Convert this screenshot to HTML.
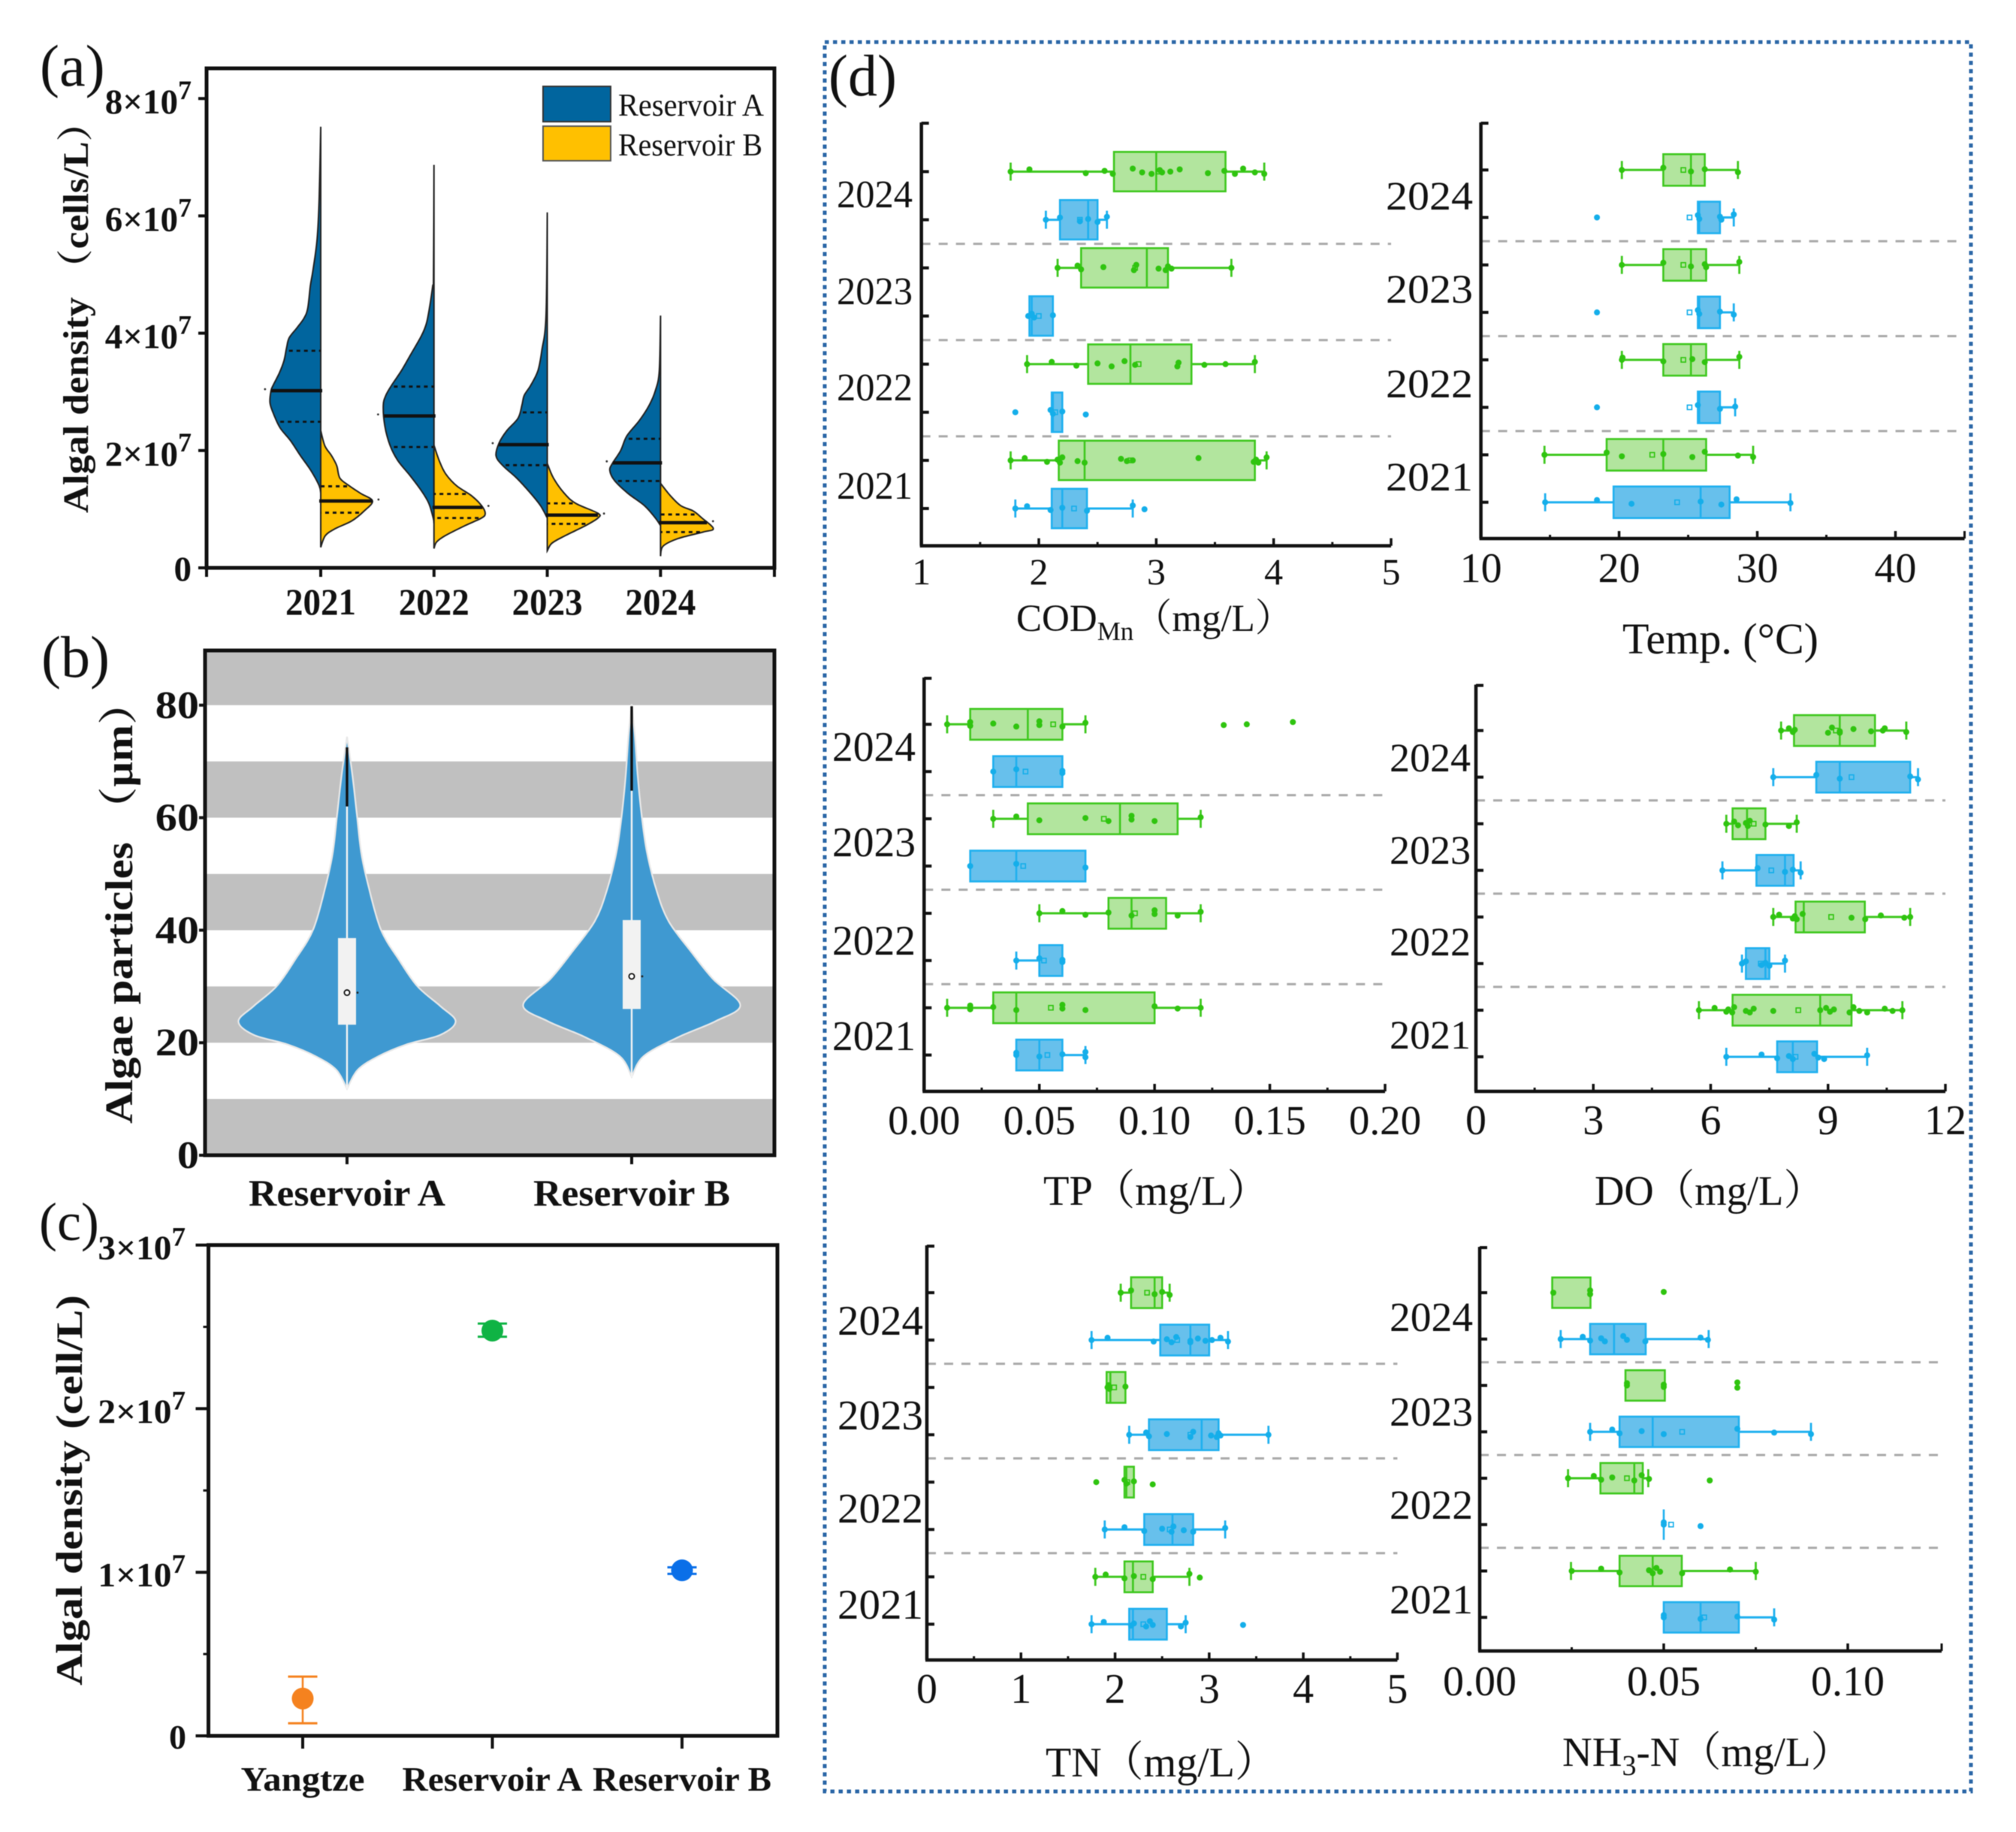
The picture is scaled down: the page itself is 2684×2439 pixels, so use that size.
<!DOCTYPE html>
<html lang="en">
<head>
<meta charset="utf-8">
<title>Algal density and water quality panels</title>
<style>
html,body{margin:0;padding:0;background:#fff;}
#chart{display:block;filter:blur(.6px);}
text{font-family:"Liberation Serif","Noto Serif CJK SC",serif;fill:#111;}
.b{font-weight:bold;}
</style>
</head>
<body>
<svg id="chart" xmlns="http://www.w3.org/2000/svg" width="2684" height="2439" viewBox="0 0 2684 2439">
  <rect x="0" y="0" width="2684" height="2439" fill="#fff"/>

  <g id="panelA"></g>
  <g id="panelB"></g>
  <g id="panelC"></g>
  <rect x="1098" y="56" width="1526" height="2329" fill="none" stroke="#2a66a6" stroke-width="5" stroke-dasharray="5.5 5.5"/>
  <g id="panelD"></g>

  <text x="53" y="114" font-size="78">(a)</text>
  <text x="55" y="901" font-size="78">(b)</text>
  <text x="52" y="1651" font-size="72">(c)</text>
  <text x="1103" y="127" font-size="78">(d)</text>

  <text class="b" font-size="48" text-anchor="start" transform="translate(117 683) rotate(-90)" textLength="546" lengthAdjust="spacingAndGlyphs">Algal density （cells/L）</text>
  <text class="b" font-size="52" text-anchor="start" transform="translate(176 1496) rotate(-90)" textLength="590" lengthAdjust="spacingAndGlyphs">Algae particles （μm）</text>
  <text class="b" font-size="50" text-anchor="middle" transform="translate(109 1984) rotate(-90)" textLength="520" lengthAdjust="spacingAndGlyphs">Algal density (cell/L)</text>

  <g>
    <rect x="723" y="115" width="90" height="47" fill="#01659e" stroke="#333" stroke-width="2"/>
    <rect x="723" y="168" width="90" height="46" fill="#ffc000" stroke="#555" stroke-width="2"/>
    <text x="823" y="154" font-size="42" textLength="194" lengthAdjust="spacingAndGlyphs">Reservoir A</text>
    <text x="823" y="207" font-size="42" textLength="192" lengthAdjust="spacingAndGlyphs">Reservoir B</text>
  </g>

  <text x="1353" y="840" font-size="51">COD<tspan font-size="35" dy="12">Mn</tspan><tspan dy="-12">（mg/L）</tspan></text>
  <text x="2160" y="870" font-size="58" textLength="261" lengthAdjust="spacingAndGlyphs">Temp. (°C)</text>
  <text x="1389" y="1604" font-size="56" textLength="301" lengthAdjust="spacingAndGlyphs">TP（mg/L）</text>
  <text x="2123" y="1604" font-size="56" textLength="306" lengthAdjust="spacingAndGlyphs">DO（mg/L）</text>
  <text x="1392" y="2365" font-size="56" textLength="308" lengthAdjust="spacingAndGlyphs">TN（mg/L）</text>
  <text x="2080" y="2351" font-size="55">NH<tspan font-size="38" dy="12">3</tspan><tspan dy="-12">-N（mg/L）</tspan></text>
</svg>

<script>
/* ---------- panel (a) data: split violins, value in 1e7 cells/L ---------- */
const aYears = ['2021', '2022', '2023', '2024'];
const aTickValues = [0, 2, 4, 6, 8];
const aTickLabels = ['0', '2×10', '4×10', '6×10', '8×10'];
const aValuesA = [
  [7.52, 6.3, 5.6, 5.07, 4.81, 4.43, 4.26, 4.09, 3.92, 3.75, 3.53, 3.32, 3.11, 3.02, 2.81, 2.6, 2.38, 2.17, 1.91, 1.66, 1.4, 1.27],
  [6.87, 4.94, 4.81, 4.47, 4.17, 3.96, 3.62, 3.36, 3.11, 2.94, 2.77, 2.42, 2.09, 1.83, 1.57, 1.31, 1.1, 0.85, 0.76],
  [6.06, 4.3, 3.7, 3.36, 3.11, 2.94, 2.77, 2.55, 2.34, 2.13, 1.91, 1.74, 1.53, 1.27, 1.06, 0.85],
  [4.3, 3.36, 3.02, 2.77, 2.51, 2.25, 2.0, 1.78, 1.66, 1.49, 1.27, 1.06, 0.85, 0.72]
];
const aDensityA = [
  [0, 0.03, 0.07, 0.15, 0.2, 0.25, 0.32, 0.46, 0.61, 0.66, 0.71, 0.8, 0.92, 0.96, 0.98, 0.9, 0.78, 0.585, 0.39, 0.19, 0.03, 0],
  [0, 0.01, 0.024, 0.08, 0.145, 0.24, 0.46, 0.63, 0.82, 0.93, 0.98, 0.95, 0.85, 0.7, 0.46, 0.24, 0.1, 0.015, 0],
  [0, 0.024, 0.106, 0.18, 0.32, 0.445, 0.49, 0.565, 0.78, 0.93, 0.99, 0.855, 0.59, 0.32, 0.13, 0],
  [0, 0.024, 0.1, 0.22, 0.41, 0.65, 0.77, 0.93, 0.98, 0.89, 0.63, 0.31, 0.1, 0]
];
const aMedianA = [3.02, 2.59, 2.1, 1.79];
const aQ1A = [2.49, 2.06, 1.75, 1.48];
const aQ3A = [3.7, 3.09, 2.65, 2.2];
const aValuesB = [
  [2.34, 2.08, 1.91, 1.74, 1.53, 1.4, 1.27, 1.14, 0.97, 0.8, 0.67, 0.55, 0.35],
  [2.09, 1.83, 1.61, 1.4, 1.23, 1.06, 0.93, 0.85, 0.72, 0.55, 0.44, 0.33],
  [1.78, 1.53, 1.27, 1.1, 0.93, 0.85, 0.72, 0.55, 0.42, 0.29],
  [1.44, 1.23, 1.06, 0.97, 0.85, 0.67, 0.61, 0.5, 0.37, 0.2]
];
const aDensityB = [
  [0, 0.08, 0.21, 0.31, 0.37, 0.55, 0.77, 1.0, 0.84, 0.6, 0.285, 0.09, 0],
  [0, 0.1, 0.22, 0.435, 0.725, 0.92, 0.99, 0.92, 0.6, 0.22, 0.05, 0],
  [0, 0.12, 0.33, 0.55, 0.98, 0.98, 0.74, 0.35, 0.09, 0],
  [0, 0.19, 0.39, 0.63, 0.8, 1.02, 0.82, 0.34, 0.05, 0]
];
const aMedianB = [1.14, 1.03, 0.9, 0.77];
const aQ1B = [0.94, 0.85, 0.75, 0.61];
const aQ3B = [1.39, 1.26, 1.1, 0.91];

/* ---------- panel (b) data: violins, particle size in um ---------- */
const bCategories = ['Reservoir A', 'Reservoir B'];
const bTickValues = [0, 20, 40, 60, 80];
const bBands = [[0, 10], [20, 30], [40, 50], [60, 70], [80, 90]];
const bValues = [
  [74.4, 67.5, 60.7, 53.9, 48.4, 40.2, 34.7, 30, 26.5, 23.8, 21.4, 19.7, 17.6, 15.2, 11.8],
  [80.2, 74.4, 67.5, 60.7, 53.9, 47, 41.6, 36.1, 31.3, 26.7, 23.8, 21, 17.6, 13.9]
];
const bDensity = [
  [0, 0.05, 0.09, 0.13, 0.19, 0.31, 0.48, 0.65, 0.86, 1.0, 0.86, 0.55, 0.29, 0.1, 0],
  [0, 0.03, 0.055, 0.09, 0.14, 0.23, 0.34, 0.55, 0.75, 1.0, 0.77, 0.43, 0.11, 0]
];
const bQ1 = [23.2, 26];
const bMedian = [28.9, 31.8];
const bQ3 = [38.6, 41.8];
const bTailFrom = [62, 64.8];
const bTailTo = [72.5, 79.8];

/* ---------- panel (c) data: mean with error bars, 1e7 cells/L ---------- */
const cCategories = ['Yangtze', 'Reservoir A', 'Reservoir B'];
const cMeans = [0.228, 2.477, 1.012];
const cErrLow = [0.077, 2.44, 0.99];
const cErrHigh = [0.362, 2.52, 1.03];
const cTickValues = [0, 1, 2, 3];
const cTickLabels = ['0', '1×10', '2×10', '3×10'];
const cMinorTicks = [0.5, 1.5, 2.5];

/* ---------- panel (d) data: rows run top to bottom, green then blue per year ---------- */
const dYears = ['2024', '2023', '2022', '2021'];

const codTickValues = [1, 2, 3, 4, 5];
const codTickLabels = ['1', '2', '3', '4', '5'];
const codMinor = [1.5, 2.5, 3.5, 4.5];
const codQ1 = [2.64, 2.18, 2.36, 1.92, 2.42, 2.11, 2.17, 2.11];
const codMedian = [3.0, 2.42, 2.92, 1.94, 2.78, 2.12, 2.39, 2.2];
const codQ3 = [3.59, 2.5, 3.1, 2.12, 3.3, 2.2, 3.84, 2.41];
const codLow = [1.76, 2.06, 2.16, null, 1.9, null, 1.76, 1.8];
const codHigh = [3.92, 2.58, 3.64, null, 3.84, null, 3.94, 2.8];
const codMean = [3.02, 2.35, 2.82, 2.0, 2.85, 2.14, 2.78, 2.3];
const codPoints = [
  [1.76, 1.92, 2.4, 2.56, 2.63, 2.8, 2.88, 2.96, 3.03, 3.05, 3.12, 3.2, 3.44, 3.58, 3.67, 3.74, 3.84, 3.92],
  [2.06, 2.18, 2.35, 2.42, 2.5, 2.58],
  [2.16, 2.33, 2.36, 2.55, 2.81, 2.83, 3.02, 3.08, 3.1, 3.13, 3.64],
  [1.91, 1.94, 1.96, 2.12],
  [1.9, 2.11, 2.32, 2.5, 2.62, 2.73, 2.82, 3.18, 3.19, 3.41, 3.59, 3.84],
  [1.8, 2.1, 2.12, 2.2, 2.4],
  [1.76, 1.88, 2.07, 2.16, 2.18, 2.2, 2.33, 2.39, 2.7, 2.75, 2.8, 3.36, 3.83, 3.85, 3.87, 3.94],
  [1.8, 1.9, 2.1, 2.2, 2.41, 2.8, 2.9]
];

const tempTickValues = [10, 20, 30, 40];
const tempTickLabels = ['10', '20', '30', '40'];
const tempMinor = [15, 25, 35, 45];
const tempQ1 = [23.2, 25.7, 23.2, 25.7, 23.2, 25.7, 19.1, 19.6];
const tempMedian = [25.2, 25.8, 25.2, 25.8, 25.2, 25.8, 23.2, 25.9];
const tempQ3 = [26.2, 27.3, 26.3, 27.3, 26.3, 27.3, 26.3, 28.0];
const tempLow = [20.2, null, 20.2, null, 20.2, null, 14.6, 14.65];
const tempHigh = [28.6, 28.3, 28.7, 28.3, 28.7, 28.4, 29.7, 32.4];
const tempMean = [24.65, 25.1, 24.65, 25.1, 24.65, 25.1, 22.4, 24.2];
const tempPoints = [
  [20.2, 23.2, 25.2, 26.2, 28.6],
  [18.4, 25.7, 25.8, 27.3, 27.4, 28.3],
  [20.2, 23.2, 25.2, 26.2, 26.3, 28.7],
  [18.4, 25.7, 25.8, 27.3, 28.3],
  [20.2, 20.25, 23.2, 25.3, 26.2, 28.7],
  [18.4, 25.7, 27.3, 28.4],
  [14.6, 19.1, 20.2, 23.2, 25.3, 26.2, 28.6, 29.7],
  [14.65, 18.4, 20.9, 25.9, 27.4, 28.5, 32.4]
];

const tpTickValues = [0, 0.05, 0.1, 0.15, 0.2];
const tpTickLabels = ['0.00', '0.05', '0.10', '0.15', '0.20'];
const tpMinor = [0.025, 0.075, 0.125, 0.175];
const tpQ1 = [0.02, 0.03, 0.045, 0.02, 0.08, 0.05, 0.03, 0.04];
const tpMedian = [0.045, 0.04, 0.085, 0.04, 0.09, 0.05, 0.04, 0.05];
const tpQ3 = [0.06, 0.06, 0.11, 0.07, 0.105, 0.06, 0.1, 0.06];
const tpLow = [0.01, null, 0.03, null, 0.05, 0.04, 0.01, null];
const tpHigh = [0.07, null, 0.12, null, 0.12, null, 0.12, 0.07];
const tpMean = [0.056, 0.044, 0.078, 0.043, 0.0915, 0.052, 0.055, 0.0535];
const tpPoints = [
  [0.01, 0.02, 0.02, 0.03, 0.04, 0.05, 0.05, 0.06, 0.07, 0.13, 0.14, 0.16],
  [0.03, 0.04, 0.06, 0.06],
  [0.03, 0.04, 0.05, 0.07, 0.08, 0.09, 0.09, 0.1, 0.12],
  [0.02, 0.04, 0.07],
  [0.05, 0.06, 0.07, 0.08, 0.09, 0.1, 0.1, 0.11, 0.12],
  [0.04, 0.05, 0.06, 0.06],
  [0.01, 0.02, 0.02, 0.03, 0.04, 0.06, 0.06, 0.07, 0.1, 0.11, 0.12],
  [0.04, 0.04, 0.05, 0.06, 0.07, 0.07]
];

const doTickValues = [0, 3, 6, 9, 12];
const doTickLabels = ['0', '3', '6', '9', '12'];
const doMinor = [1.5, 4.5, 7.5, 10.5];
const doQ1 = [8.13, 8.7, 6.56, 7.17, 8.17, 6.9, 6.56, 7.7];
const doMedian = [9.3, 9.3, 6.93, 7.9, 8.38, 7.4, 8.8, 8.1];
const doQ3 = [10.2, 11.1, 7.4, 8.12, 9.94, 7.5, 9.6, 8.72];
const doLow = [7.8, 7.6, 6.4, 6.3, 7.6, 6.8, 5.7, 6.4];
const doHigh = [11.0, 11.3, 8.2, 8.3, 11.1, 7.9, 10.9, 10.0];
const doMean = [9.2, 9.6, 7.1, 7.55, 9.08, 7.28, 8.24, 8.17];
const doPoints = [
  [7.8, 8.0, 8.1, 8.15, 9.0, 9.1, 9.3, 9.3, 9.65, 10.1, 10.4, 10.45, 11.0],
  [7.6, 8.7, 9.3, 11.1, 11.3],
  [6.4, 6.6, 6.7, 6.9, 6.95, 7.0, 7.4, 8.0, 8.2],
  [6.3, 7.2, 7.9, 8.1, 8.3],
  [7.6, 7.75, 8.1, 8.15, 8.2, 8.35, 9.6, 9.95, 10.35, 10.95, 11.1],
  [6.8, 6.9, 7.3, 7.4, 7.5, 7.9],
  [5.7, 6.1, 6.4, 6.45, 6.55, 6.6, 6.9, 7.0, 7.1, 7.6, 8.8, 8.95, 9.05, 9.15, 9.55, 9.65, 9.8, 10.0, 10.45, 10.65, 10.9],
  [6.4, 7.3, 7.7, 8.0, 8.1, 8.65, 8.75, 8.9, 10.0]
];

const tnTickValues = [0, 1, 2, 3, 4, 5];
const tnTickLabels = ['0', '1', '2', '3', '4', '5'];
const tnMinor = [0.5, 1.5, 2.5, 3.5, 4.5];
const tnQ1 = [2.17, 2.48, 1.91, 2.36, 2.1, 2.31, 2.1, 2.15];
const tnMedian = [2.42, 2.8, 1.95, 2.92, 2.12, 2.61, 2.19, 2.19];
const tnQ3 = [2.5, 3.0, 2.11, 3.1, 2.2, 2.83, 2.4, 2.55];
const tnLow = [2.06, 1.75, null, 2.15, null, 1.89, 1.79, 1.75];
const tnHigh = [2.58, 3.2, null, 3.63, null, 3.17, 2.79, 2.75];
const tnMean = [2.34, 2.66, 1.99, 2.8, 2.13, 2.58, 2.3, 2.3];
const tnPoints = [
  [2.06, 2.17, 2.42, 2.5, 2.58],
  [1.75, 1.92, 2.41, 2.55, 2.6, 2.65, 2.8, 2.8, 2.88, 2.96, 3.03, 3.12, 3.2],
  [1.92, 1.93, 1.94, 2.11],
  [2.15, 2.33, 2.36, 2.55, 2.8, 2.83, 3.02, 3.08, 3.1, 3.12, 3.63],
  [1.8, 2.1, 2.12, 2.2, 2.4],
  [1.89, 2.1, 2.31, 2.5, 2.6, 2.62, 2.73, 2.83, 3.17],
  [1.79, 1.9, 2.1, 2.2, 2.4, 2.79, 2.9],
  [1.75, 1.88, 2.17, 2.2, 2.33, 2.37, 2.4, 2.7, 2.75, 3.36]
];

const nhTickValues = [0, 0.05, 0.1];
const nhTickLabels = ['0.00', '0.05', '0.10'];
const nhMinor = [0.025, 0.075];
const nhQ1 = [0.0197, 0.03, 0.0396, 0.038, 0.0328, 0.05, 0.038, 0.05];
const nhMedian = [null, 0.0365, null, 0.047, 0.042, 0.05, 0.047, 0.06];
const nhQ3 = [0.0301, 0.0451, 0.0503, 0.0704, 0.0443, 0.05, 0.0549, 0.0704];
const nhLow = [null, 0.022, null, 0.03, 0.024, null, 0.0248, null];
const nhHigh = [null, 0.0622, null, 0.09, 0.0458, null, 0.075, 0.08];
const nhMean = [null, null, null, 0.055, 0.04, 0.052, null, 0.061];
const nhPoints = [
  [0.02, 0.03, 0.03, 0.05],
  [0.022, 0.028, 0.03, 0.033, 0.034, 0.039, 0.04, 0.045, 0.06, 0.062],
  [0.04, 0.04, 0.05, 0.05, 0.07, 0.07],
  [0.03, 0.036, 0.038, 0.044, 0.05, 0.07, 0.08, 0.09],
  [0.024, 0.031, 0.033, 0.036, 0.042, 0.044, 0.046, 0.0625],
  [0.05, 0.05, 0.06],
  [0.025, 0.033, 0.038, 0.046, 0.047, 0.048, 0.049, 0.055, 0.068, 0.075],
  [0.05, 0.05, 0.06, 0.07, 0.08]
];

/* ---------- helpers ---------- */
const SVGNS = 'http://www.w3.org/2000/svg';
function mk(parent, tag, attrs) {
  const el = document.createElementNS(SVGNS, tag);
  Object.keys(attrs).forEach(function (k) { el.setAttribute(k, attrs[k]); });
  parent.appendChild(el);
  return el;
}
function smoothPath(pts) {
  let d = 'M' + pts[0][0] + ' ' + pts[0][1];
  for (let i = 0; i < pts.length - 1; i++) {
    const p0 = pts[Math.max(0, i - 1)], p1 = pts[i], p2 = pts[i + 1], p3 = pts[Math.min(pts.length - 1, i + 2)];
    const c1x = p1[0] + (p2[0] - p0[0]) / 6, c1y = p1[1] + (p2[1] - p0[1]) / 6;
    const c2x = p2[0] - (p3[0] - p1[0]) / 6, c2y = p2[1] - (p3[1] - p1[1]) / 6;
    d += ' C' + c1x + ' ' + c1y + ' ' + c2x + ' ' + c2y + ' ' + p2[0] + ' ' + p2[1];
  }
  return d;
}
function densityAt(vals, dens, v) {
  for (let i = 0; i < vals.length - 1; i++) {
    if (v <= vals[i] && v >= vals[i + 1]) {
      const t = (vals[i] - v) / (vals[i] - vals[i + 1]);
      return dens[i] + t * (dens[i + 1] - dens[i]);
    }
  }
  return 0;
}
function addSup(t, s, size, dy) {
  const sp = mk(t, 'tspan', { 'font-size': size, dy: dy });
  sp.textContent = s;
}

/* ---------- panel (a) ---------- */
(function () {
  const g = document.getElementById('panelA');
  const L = 275, R = 1031, T = 91, B = 756;
  const yA = function (v) { return B - v * 78.1; };
  const xA = function (i) { return 427 + i * 150.8; };
  const wScale = 68.9;

  function half(i, vals, dens, sign, fill, med, q1, q3, label) {
    const cx = xA(i);
    const pts = vals[i].map(function (v, j) { return [cx + sign * dens[i][j] * wScale, yA(v)]; });
    const shape = mk(g, 'path', { d: smoothPath(pts) + ' Z', fill: fill, stroke: '#222', 'stroke-width': 2 });
    
    
    [[q1[i], 'q1'], [q3[i], 'q3']].forEach(function (q) {
      const w = densityAt(vals[i], dens[i], q[0]) * wScale;
      const line = mk(g, 'line', { x1: cx + sign * (w - 4), x2: cx, y1: yA(q[0]), y2: yA(q[0]), stroke: '#111', 'stroke-width': 2.8, 'stroke-dasharray': '5 5' });
      
      
    });
    const mw = densityAt(vals[i], dens[i], med[i]) * wScale;
    const mLine = mk(g, 'line', { x1: cx + sign * mw, x2: cx - sign * 2, y1: yA(med[i]), y2: yA(med[i]), stroke: '#111', 'stroke-width': 4.5 });
    
    
    const speck = mk(g, 'circle', { cx: cx + sign * (mw + 8), cy: yA(med[i]) - 2, r: 1.4, fill: '#333' });
    
    
  }
  aYears.forEach(function (y, i) {
    half(i, aValuesA, aDensityA, -1, '#01659e', aMedianA, aQ1A, aQ3A, 'reservoir-a');
    half(i, aValuesB, aDensityB, 1, '#ffc000', aMedianB, aQ1B, aQ3B, 'reservoir-b');
  });

  const frame = mk(g, 'rect', { x: L, y: T, width: R - L, height: B - T, fill: 'none', stroke: '#111', 'stroke-width': 5 });
  
  

  aTickValues.forEach(function (v, i) {
    const tick = mk(g, 'line', { x1: L, x2: L - 11, y1: yA(v), y2: yA(v), stroke: '#111', 'stroke-width': 4 });
    
    
    const t = mk(g, 'text', { class: 'b', 'font-size': 47, 'text-anchor': 'end' });
    
    
    t.textContent = aTickLabels[i];
    if (v === 0) {
      t.setAttribute('transform', 'translate(255 ' + (yA(v) + 17) + ')');
    } else {
      t.setAttribute('transform', 'translate(255 ' + (yA(v) + 20) + ')');
      addSup(t, '7', 36, -19);
    }
  });
  [L, R].forEach(function (x) {
    const tick = mk(g, 'line', { x1: x, x2: x, y1: B, y2: B + 12, stroke: '#111', 'stroke-width': 4 });
    
    
  });
  aYears.forEach(function (y, i) {
    const tick = mk(g, 'line', { x1: xA(i), x2: xA(i), y1: B, y2: B + 12, stroke: '#111', 'stroke-width': 4 });
    
    
    const t = mk(g, 'text', { class: 'b', 'font-size': 50, x: xA(i), y: 818, 'text-anchor': 'middle', textLength: 94, lengthAdjust: 'spacingAndGlyphs' });
    
    
    t.textContent = y;
  });
})();

/* ---------- panel (b) ---------- */
(function () {
  const g = document.getElementById('panelB');
  const L = 273, R = 1031, T = 866, B = 1538;
  const yB = function (v) { return B - v * 7.49; };
  const xB = function (i) { return 462 + i * 379; };
  const wScale = 144.6;

  bBands.forEach(function (b) {
    const band = mk(g, 'rect', { x: L, width: R - L, y: yB(b[1]), height: yB(b[0]) - yB(b[1]), fill: '#c0c0c0' });
    
    
  });

  bCategories.forEach(function (cat, i) {
    const cx = xB(i);
    const right = bValues[i].map(function (v, j) { return [cx + bDensity[i][j] * wScale, yB(v)]; });
    const left = bValues[i].map(function (v, j) { return [cx - bDensity[i][j] * wScale, yB(v)]; });
    const dR = smoothPath(right);
    const dL = smoothPath(left.slice().reverse()).replace(/^M[^C]*/, '');
    const v = mk(g, 'path', { d: dR + dL + ' Z', fill: '#3f99d1', stroke: '#e8e8e8', 'stroke-width': 2.2 });
    
    

    const whisk = mk(g, 'line', { x1: cx, x2: cx, y1: yB(bValues[i][bValues[i].length - 1]), y2: yB(bTailFrom[i]), stroke: '#f4f4f4', 'stroke-width': 2.4 });
    
    
    const tail = mk(g, 'line', { x1: cx, x2: cx, y1: yB(bTailFrom[i]), y2: yB(bTailTo[i]), stroke: '#111', 'stroke-width': 3.4 });
    
    
    const box = mk(g, 'rect', { x: cx - 12, width: 24, y: yB(bQ3[i]), height: yB(bQ1[i]) - yB(bQ3[i]), fill: '#f2f2f2' });
    
    
    const med = mk(g, 'circle', { cx: cx, cy: yB(bMedian[i]), r: 3.6, fill: '#fff', stroke: '#111', 'stroke-width': 1.8 });
    
    
    const speck = mk(g, 'circle', { cx: cx + 14, cy: yB(bMedian[i]), r: 1.4, fill: '#222' });
    
    

    const tick = mk(g, 'line', { x1: cx, x2: cx, y1: B, y2: B + 12, stroke: '#111', 'stroke-width': 4 });
    
    
    const t = mk(g, 'text', { class: 'b', 'font-size': 50, x: cx, y: 1605, 'text-anchor': 'middle', textLength: 262, lengthAdjust: 'spacingAndGlyphs' });
    
    
    t.textContent = cat;
  });

  const frame = mk(g, 'rect', { x: L, y: T, width: R - L, height: B - T, fill: 'none', stroke: '#111', 'stroke-width': 5 });
  
  

  bTickValues.forEach(function (v) {
    const tick = mk(g, 'line', { x1: L, x2: L - 8, y1: yB(v), y2: yB(v), stroke: '#111', 'stroke-width': 4 });
    
    
    const t = mk(g, 'text', { class: 'b', 'font-size': 52, 'text-anchor': 'end', transform: 'translate(265 ' + (yB(v) + 17) + ') scale(1.12 1)' });
    
    
    t.textContent = String(v);
  });
})();

/* ---------- panel (c) ---------- */
(function () {
  const g = document.getElementById('panelC');
  const L = 277.5, R = 1035, T = 1657.6, B = 2311;
  const yC = function (v) { return B - v * 217.8; };
  const xC = function (i) { return 403 + i * 252.5; };
  const colors = ['#f5821f', '#0fb344', '#0a6fe8'];
  const labelWidths = [165, 240, 238];

  const frame = mk(g, 'rect', { x: L, y: T, width: R - L, height: B - T, fill: 'none', stroke: '#111', 'stroke-width': 5 });
  
  

  cTickValues.forEach(function (v, i) {
    const tick = mk(g, 'line', { x1: L, x2: L - 17, y1: yC(v), y2: yC(v), stroke: '#111', 'stroke-width': 4 });
    
    
    const t = mk(g, 'text', { class: 'b', 'font-size': 46, 'text-anchor': 'end' });
    
    
    t.textContent = cTickLabels[i];
    if (v === 0) {
      t.setAttribute('transform', 'translate(248 ' + (yC(v) + 17) + ')');
    } else {
      t.setAttribute('transform', 'translate(247 ' + (yC(v) + 19) + ') scale(1.03 1)');
      addSup(t, '7', 36, -18);
    }
  });
  cMinorTicks.forEach(function (v) {
    const tick = mk(g, 'line', { x1: L, x2: L - 7, y1: yC(v), y2: yC(v), stroke: '#111', 'stroke-width': 3 });
    
    
  });
  cCategories.forEach(function (cat, i) {
    const x = xC(i);
    const tick = mk(g, 'line', { x1: x, x2: x, y1: B, y2: B + 17, stroke: '#111', 'stroke-width': 4 });
    
    
    const t = mk(g, 'text', { class: 'b', 'font-size': 46, x: x, y: 2384, 'text-anchor': 'middle', textLength: labelWidths[i], lengthAdjust: 'spacingAndGlyphs' });
    
    
    t.textContent = cat;
    const bar = mk(g, 'line', { x1: x, x2: x, y1: yC(cErrLow[i]), y2: yC(cErrHigh[i]), stroke: colors[i], 'stroke-width': 2.5 });
    
    
    [cErrLow[i], cErrHigh[i]].forEach(function (e) {
      const cap = mk(g, 'line', { x1: x - 19.5, x2: x + 19.5, y1: yC(e), y2: yC(e), stroke: colors[i], 'stroke-width': 3 });
      
      
    });
    const dot = mk(g, 'circle', { cx: x, cy: yC(cMeans[i]), r: 14.5, fill: colors[i] });
    
    
  });
})();

/* ---------- panel (d) box plots ---------- */
const jitterCycle = [0, -3, 2, -1, 3, -4, 1, 3, -2, 1];

function drawBoxPanel(cfg, d) {
  const root = document.getElementById('panelD');
  const g = mk(root, 'g', {});
  
  
  const xS = function (v) { return cfg.left + (v - cfg.xMin) / (cfg.xMax - cfg.xMin) * (cfg.right - cfg.left); };
  const yS = function (r) { return cfg.rowFirst + r * cfg.rowStep; };

  [1.5, 3.5, 5.5].forEach(function (r) {
    const dash = mk(g, 'line', { x1: cfg.left, x2: cfg.right, y1: yS(r), y2: yS(r), stroke: '#a9a9a9', 'stroke-width': 3, 'stroke-dasharray': '12 11' });
    
    
  });

  d.q1.forEach(function (q1, r) {
    const green = r % 2 === 0;
    const stroke = green ? '#3fc81f' : '#1fb0ef';
    const fill = green ? '#b2e59e' : '#67c0ec';
    const pt = green ? '#2fc40f' : '#14aeea';
    const y = yS(r);
    const series = green ? 'reservoir-b' : 'reservoir-a';

    if (d.low[r] !== null) {
      const wl = mk(g, 'line', { x1: xS(d.low[r]), x2: xS(q1), y1: y, y2: y, stroke: stroke, 'stroke-width': 3 });
      
      
      const cl = mk(g, 'line', { x1: xS(d.low[r]), x2: xS(d.low[r]), y1: y - 12, y2: y + 12, stroke: stroke, 'stroke-width': 2.8 });
      
      
    }
    if (d.high[r] !== null) {
      const wh = mk(g, 'line', { x1: xS(d.q3[r]), x2: xS(d.high[r]), y1: y, y2: y, stroke: stroke, 'stroke-width': 3 });
      
      
      const ch = mk(g, 'line', { x1: xS(d.high[r]), x2: xS(d.high[r]), y1: y - 12, y2: y + 12, stroke: stroke, 'stroke-width': 2.8 });
      
      
    }
    const box = mk(g, 'rect', { x: xS(q1), width: xS(d.q3[r]) - xS(q1), y: y - cfg.boxH / 2, height: cfg.boxH, fill: fill, stroke: stroke, 'stroke-width': 2.6 });
    
    
    if (d.med[r] !== null) {
      const med = mk(g, 'line', { x1: xS(d.med[r]), x2: xS(d.med[r]), y1: y - cfg.boxH / 2, y2: y + cfg.boxH / 2, stroke: stroke, 'stroke-width': 2.6 });
      
      
    }
    d.pts[r].forEach(function (v, j) {
      const c = mk(g, 'circle', { cx: xS(v), cy: y + jitterCycle[j % jitterCycle.length], r: 4, fill: pt });
      
      
    });
    if (d.mean[r] !== null) {
      const m = mk(g, 'rect', { x: xS(d.mean[r]) - 3, y: y - 3, width: 6, height: 6, fill: 'none', stroke: pt, 'stroke-width': 1.6 });
      
      
    }
  });

  const axY = mk(g, 'line', { x1: cfg.left, x2: cfg.left, y1: cfg.top, y2: cfg.bottom, stroke: '#111', 'stroke-width': 4.5 });
  
  
  const axX = mk(g, 'line', { x1: cfg.left - 2, x2: cfg.right, y1: cfg.bottom, y2: cfg.bottom, stroke: '#111', 'stroke-width': 4.5 });
  
  
  const topCap = mk(g, 'line', { x1: cfg.left, x2: cfg.left + 10, y1: cfg.top + 1, y2: cfg.top + 1, stroke: '#111', 'stroke-width': 4 });
  
  
  const endTick = mk(g, 'line', { x1: cfg.right, x2: cfg.right, y1: cfg.bottom, y2: cfg.bottom - 10, stroke: '#111', 'stroke-width': 3 });
  
  

  for (let r = 0; r < 8; r++) {
    const t = mk(g, 'line', { x1: cfg.left, x2: cfg.left + 10, y1: yS(r), y2: yS(r), stroke: '#111', 'stroke-width': 4 });
    
    
  }
  dYears.forEach(function (yr, i) {
    const base = cfg.lblY ? cfg.lblY[i] : yS(i * 2 + 0.5) + cfg.lblDy;
    const t = mk(g, 'text', { x: cfg.lblX, y: base, 'font-size': cfg.lblSize, textLength: cfg.lblW, lengthAdjust: 'spacingAndGlyphs' });
    
    
    t.textContent = yr;
  });
  cfg.ticks.forEach(function (v, i) {
    const t = mk(g, 'line', { x1: xS(v), x2: xS(v), y1: cfg.bottom, y2: cfg.bottom - 10, stroke: '#111', 'stroke-width': 3.5 });
    
    
    const l = mk(g, 'text', { x: xS(v), y: cfg.tickBase, 'font-size': cfg.tickSize, 'text-anchor': 'middle' });
    
    
    l.textContent = cfg.tickLabels[i];
  });
  cfg.minor.forEach(function (v) {
    const t = mk(g, 'line', { x1: xS(v), x2: xS(v), y1: cfg.bottom, y2: cfg.bottom - 5, stroke: '#111', 'stroke-width': 3 });
    
    
  });
}

drawBoxPanel(
  { name: 'cod', left: 1226.7, right: 1852, top: 163, bottom: 726.6, xMin: 1, xMax: 5, rowFirst: 228.5, rowStep: 64.07, boxH: 52.5, lblX: 1114, lblW: 101, lblSize: 52, lblY: [276, 405, 533, 664], tickBase: 778, tickSize: 50, ticks: codTickValues, tickLabels: codTickLabels, minor: codMinor },
  { q1: codQ1, med: codMedian, q3: codQ3, low: codLow, high: codHigh, mean: codMean, pts: codPoints }
);
drawBoxPanel(
  { name: 'temp', left: 1971.6, right: 2615.5, top: 163, bottom: 717, xMin: 10, xMax: 45, rowFirst: 226.3, rowStep: 63.2, boxH: 42, lblX: 1845, lblW: 116, lblSize: 54, lblY: [279, 403, 529, 653], tickBase: 775, tickSize: 56, ticks: tempTickValues, tickLabels: tempTickLabels, minor: tempMinor },
  { q1: tempQ1, med: tempMedian, q3: tempQ3, low: tempLow, high: tempHigh, mean: tempMean, pts: tempPoints }
);
drawBoxPanel(
  { name: 'tp', left: 1230.3, right: 1844, top: 902, bottom: 1453, xMin: 0, xMax: 0.2, rowFirst: 964.3, rowStep: 62.9, boxH: 41, lblX: 1108, lblW: 111, lblSize: 56, lblY: [1013, 1140, 1271, 1398], tickBase: 1510, tickSize: 55, ticks: tpTickValues, tickLabels: tpTickLabels, minor: tpMinor },
  { q1: tpQ1, med: tpMedian, q3: tpQ3, low: tpLow, high: tpHigh, mean: tpMean, pts: tpPoints }
);
drawBoxPanel(
  { name: 'do', left: 1965, right: 2590, top: 911.5, bottom: 1453, xMin: 0, xMax: 12, rowFirst: 972.6, rowStep: 62.05, boxH: 41, lblX: 1850, lblW: 108, lblSize: 54, lblY: [1027, 1150, 1272, 1396], tickBase: 1510, tickSize: 56, ticks: doTickValues, tickLabels: doTickLabels, minor: doMinor },
  { q1: doQ1, med: doMedian, q3: doQ3, low: doLow, high: doHigh, mean: doMean, pts: doPoints }
);
drawBoxPanel(
  { name: 'tn', left: 1234, right: 1860.4, top: 1658, bottom: 2210, xMin: 0, xMax: 5, rowFirst: 1721, rowStep: 63.05, boxH: 41, lblX: 1115, lblW: 114, lblSize: 56, lblY: [1777, 1903, 2027, 2155], tickBase: 2267, tickSize: 56, ticks: tnTickValues, tickLabels: tnTickLabels, minor: tnMinor },
  { q1: tnQ1, med: tnMedian, q3: tnQ3, low: tnLow, high: tnHigh, mean: tnMean, pts: tnPoints }
);
drawBoxPanel(
  { name: 'nh3', left: 1970, right: 2585, top: 1660, bottom: 2198, xMin: 0, xMax: 0.1255, rowFirst: 1721, rowStep: 61.75, boxH: 40.5, lblX: 1850, lblW: 111, lblSize: 55, lblY: [1772, 1898, 2022, 2148], tickBase: 2257, tickSize: 56, ticks: nhTickValues, tickLabels: nhTickLabels, minor: nhMinor },
  { q1: nhQ1, med: nhMedian, q3: nhQ3, low: nhLow, high: nhHigh, mean: nhMean, pts: nhPoints }
);
</script>
</body>
</html>
